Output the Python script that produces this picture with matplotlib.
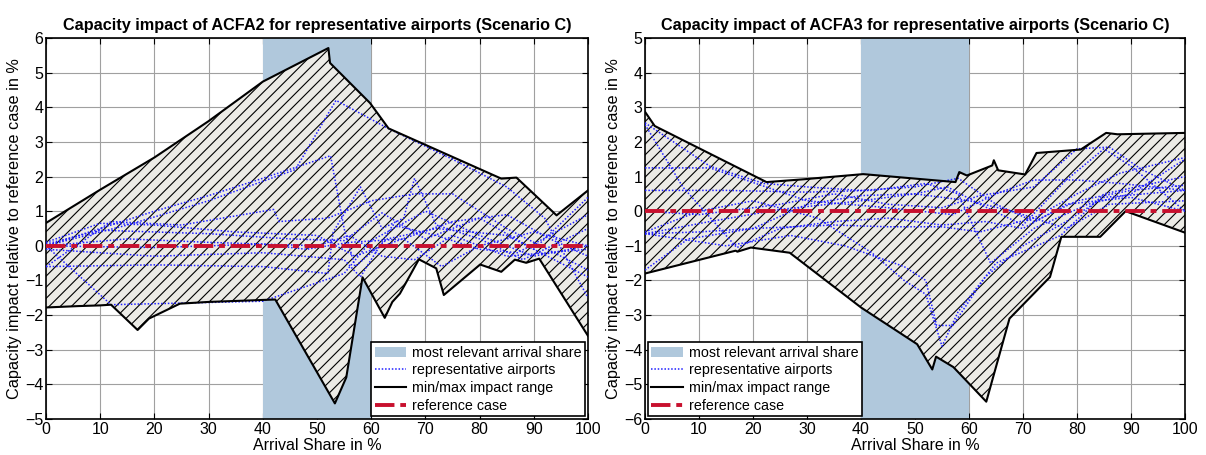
import numpy as np
import matplotlib
matplotlib.use('agg')
import matplotlib.pyplot as plt
from matplotlib.patches import Patch
from matplotlib.lines import Line2D

plt.rcParams['font.family'] = ['Liberation Sans', 'DejaVu Sans']
plt.rcParams['hatch.linewidth'] = 0.8

# ---- ACFA2 (left) ----
a2_up_x = [0, 10, 20, 30, 40, 52.1, 52.4, 59.8, 63.2, 84, 86.8, 94.2, 100]
a2_up_y = [0.66, 1.62, 2.55, 3.6, 4.74, 5.71, 5.28, 4.12, 3.39, 1.94, 1.97, 0.88, 1.6]
a2_lo_x = [0, 6, 10, 12, 16.9, 19, 24.7, 30, 42.3, 53.3, 55.4, 58.4, 62.5, 63.9, 65.3,
           68.8, 72, 73.4, 80.1, 84, 86.5, 88.6, 91, 100]
a2_lo_y = [-1.78, -1.74, -1.72, -1.7, -2.43, -2.1, -1.67, -1.62, -1.55, -4.55, -3.8, -0.91,
           -2.08, -1.62, -1.38, -0.39, -0.65, -1.42, -0.54, -0.75, -0.4, -0.49, -0.37, -2.6]
a2_airports = [
    ([0, 10, 20, 30, 40, 52.5, 55, 57, 63, 72, 85, 100],
     [0, 0.5, 1.0, 1.45, 1.95, 2.6, 0.5, -0.6, 0.2, 0.5, 0.3, -0.9]),
    ([0, 15, 30, 46, 53.5, 63, 75, 85, 92, 100],
     [0, 0.6, 1.3, 2.2, 4.2, 3.4, 2.5, 1.7, 0.8, -1.5]),
    ([0, 12, 25, 42, 43, 52, 60, 68, 75, 85, 100],
     [-0.6, 0.7, 0.6, 1.05, 0.7, 0.8, 1.3, 1.5, 1.5, 0.5, -0.7]),
    ([0, 12, 40, 55, 60, 70, 80, 90, 100],
     [0, -1.7, -1.6, -0.8, 0.15, 1.0, 0.3, -0.3, 0]),
    ([0, 20, 40, 52, 53, 58, 62, 66, 68, 72, 80, 88, 100],
     [-0.6, -0.55, -0.6, -0.8, 0.4, 1.7, 0.5, 0.8, 1.95, 0.6, 0.2, -0.4, 0.5]),
    ([0, 10, 20, 35, 50, 57, 64, 75, 85, 93, 100],
     [0.1, 0.65, 0.6, 0.4, 0.3, -0.3, 0.1, 0.7, 0.9, 0.2, -0.3]),
    ([0, 10, 30, 45, 55, 62, 70, 80, 90, 100],
     [0.05, 0.45, 0.35, 0.2, 0.15, 0.95, 0.2, 0.8, -0.1, 1.4]),
    ([0, 20, 40, 55, 58, 64, 72, 80, 87, 100],
     [-0.1, -0.3, -0.2, -0.4, -0.9, 0.6, 0.3, -0.1, -0.2, 0.9]),
    ([0, 15, 30, 50, 56, 62, 68, 75, 85, 100],
     [0, 0.2, 0.1, 0, 0.3, -0.3, -0.4, 0.3, -0.3, -0.1]),
    ([0, 20, 40, 48, 56, 66, 73, 80, 90, 100],
     [0, -0.05, 0.05, -0.1, 0.1, 0.2, -0.6, 0.0, 0.4, 0.0]),
]

# ---- ACFA3 (right) ----
a3_up_x = [0, 1.8, 22.5, 29.3, 40.4, 57.5, 58.2, 59.6, 64.3, 64.6, 65.4, 70.4, 72.5,
           80.7, 85.4, 87.5, 100]
a3_up_y = [2.87, 2.46, 0.84, 0.92, 1.07, 0.84, 1.13, 1.03, 1.32, 1.47, 1.18, 1.06, 1.68,
           1.78, 2.26, 2.22, 2.26]
a3_lo_x = [0, 16.8, 17.1, 19.6, 26.8, 40, 50.4, 53.2, 53.9, 57.1, 63.2, 67.5, 75, 77.1,
           84.3, 89, 100]
a3_lo_y = [-1.8, -1.14, -1.17, -1.05, -1.2, -2.78, -3.84, -4.57, -4.2, -4.5, -5.5, -3.1,
           -1.9, -0.74, -0.74, 0.0, -0.62]
a3_airports = [
    ([0, 12, 22, 30, 40, 50, 58, 65, 72, 80, 90, 100],
     [2.55, 1.3, 0.8, 0.7, 0.6, 0.7, 0.95, 0.2, -0.3, 0.3, 0.6, 0.75]),
    ([0, 7, 17, 25, 35, 45, 55, 63, 70, 78, 90, 100],
     [2.5, 0.7, -1.05, -0.5, -0.3, -0.2, -0.4, -0.3, -0.5, 0.2, 0.4, 0.0]),
    ([0, 12, 30, 45, 57, 65, 72, 80, 88, 100],
     [1.25, 1.25, 0.3, 0.1, -0.1, 0.5, 0.9, 0.9, 0.8, 0.6]),
    ([0, 15, 30, 42, 52, 58, 64, 72, 82, 90, 100],
     [0.6, 0.6, 0.55, 0.6, 0.8, 0.5, -1.5, -0.5, 0.2, 0.5, 1.5]),
    ([0, 10, 20, 35, 45, 55, 62, 72, 80, 88, 100],
     [-0.65, -0.6, -0.5, -0.4, -0.45, -0.45, -0.6, -0.2, 0.5, 1.1, 1.55]),
    ([0, 12, 25, 40, 50, 56, 62, 70, 78, 85, 90, 100],
     [-0.65, -0.3, 0.05, 0.3, 0.5, 0.7, 0.2, -0.4, 0.9, 1.8, 1.3, 0.0]),
    ([0, 15, 27, 37, 48, 52, 54, 57, 63, 70, 78, 85, 100],
     [-0.65, -1.0, -0.7, -1.0, -1.6, -2.0, -3.3, -3.3, -1.9, -1.0, -0.3, 0.4, 0.6]),
    ([0, 10, 20, 32, 42, 48, 52, 55, 58, 65, 77, 85, 100],
     [-0.6, 0.0, 0.3, -0.2, -1.2, -2.0, -2.4, -3.9, -2.9, -1.5, -0.7, 0.5, 1.0]),
    ([0, 8, 20, 30, 40, 50, 60, 68, 78, 86, 100],
     [-1.7, -0.8, -0.5, 0.2, 0.45, 0.5, 0.3, 0.0, -0.5, 0.2, 0.3]),
    ([0, 10, 25, 35, 45, 55, 62, 72, 80, 86, 92, 100],
     [0.0, -0.1, 0.2, 0.5, 0.2, 0.1, 0.45, 0.7, 1.8, 1.85, 1.2, 0.6]),
]

relevant_share = (40, 60)

blue = '#1f1fff'
red = '#c8102e'
span_col = '#b0c8dc'
fill_col = '#ecebe6'


def draw(ax, up_x, up_y, lo_x, lo_y, airports, title, ylim, legend_loc):
    ax.axvspan(relevant_share[0], relevant_share[1], color=span_col, lw=0, zorder=1)
    px = np.concatenate([up_x, lo_x[::-1]])
    py = np.concatenate([up_y, lo_y[::-1]])
    ax.fill(px, py, facecolor=fill_col, edgecolor='black', hatch='///', lw=0, zorder=2)
    for xs, ys in airports:
        ax.plot(xs, ys, color=blue, ls=(0, (1, 1.2)), lw=1.1, zorder=3)
    ax.plot(up_x, up_y, color='black', lw=1.5, zorder=4)
    ax.plot(lo_x, lo_y, color='black', lw=1.5, zorder=4)
    ax.plot([0, 100], [0, 0], color=red, lw=2.8, ls=(0, (5, 1.5, 1.5, 1.5)), zorder=5)

    ax.set_xlim(0, 100)
    ax.set_ylim(*ylim)
    ax.set_xticks(np.arange(0, 101, 10))
    ax.set_yticks(np.arange(ylim[0], ylim[1] + 1, 1))
    ax.set_axisbelow(True)
    ax.grid(True, color='#a0a0a0', lw=0.8)
    ax.tick_params(direction='in', top=True, right=True, length=4, labelsize=11.5, pad=2)
    for s in ax.spines.values():
        s.set_linewidth(1.2)
    ax.set_title(title, fontsize=11.7, fontweight='bold', pad=6)
    ax.set_xlabel('Arrival Share in %', fontsize=11.5, labelpad=1)
    ax.set_ylabel('Capacity impact relative to reference case in %', fontsize=11.7, labelpad=2)

    handles = [Patch(facecolor=span_col, edgecolor='none'),
               Line2D([], [], color=blue, ls=(0, (1, 1.2)), lw=1.1),
               Line2D([], [], color='black', lw=1.5),
               Line2D([], [], color=red, lw=2.8, ls=(0, (5, 1.5, 1.5, 1.5)))]
    labels = ['most relevant arrival share', 'representative airports',
              'min/max impact range', 'reference case']
    leg = ax.legend(handles, labels, loc=legend_loc, fontsize=10.3, frameon=True,
                    fancybox=False, framealpha=1, edgecolor='black', handlelength=2.2,
                    borderaxespad=0.2, borderpad=0.25, labelspacing=0.25, handletextpad=0.4)
    leg.get_frame().set_linewidth(1.2)
    leg.set_zorder(10)


fig = plt.figure(figsize=(12.06, 4.55), dpi=100)
ax1 = fig.add_axes([46 / 1206, 36 / 455, 542 / 1206, 381 / 455])
ax2 = fig.add_axes([645 / 1206, 36 / 455, 540 / 1206, 381 / 455])

draw(ax1, np.array(a2_up_x), np.array(a2_up_y), np.array(a2_lo_x), np.array(a2_lo_y),
     a2_airports, 'Capacity impact of ACFA2 for representative airports (Scenario C)',
     (-5, 6), 'lower right')
draw(ax2, np.array(a3_up_x), np.array(a3_up_y), np.array(a3_lo_x), np.array(a3_lo_y),
     a3_airports, 'Capacity impact of ACFA3 for representative airports (Scenario C)',
     (-6, 5), 'lower left')

fig.savefig('out.png', dpi=100)
